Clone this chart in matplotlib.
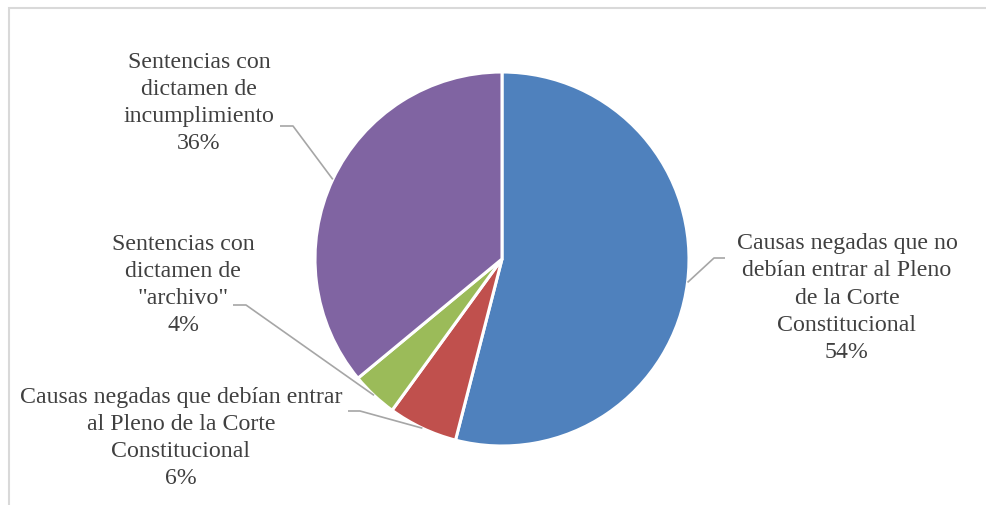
import numpy as np
import matplotlib
matplotlib.use("Agg")
import matplotlib.pyplot as plt
from matplotlib.patches import Rectangle

# ---- data ----
categories = [
    "Causas negadas que no\ndebían entrar al Pleno\nde la Corte\nConstitucional",
    "Causas negadas que debían entrar\nal Pleno de la Corte\nConstitucional",
    "Sentencias con\ndictamen de\n\"archivo\"",
    "Sentencias con\ndictamen de\nincumplimiento",
]
values = [54, 6, 4, 36]
colors = ["#4F81BD", "#C0504D", "#9BBB59", "#8064A2"]

# ---- layout (pixel coords, y up) ----
W, H = 986, 505
center = (502, H - 259)
radius = 187
# label centre positions and leader elbow/end points
label_pos = [(847, H - 298), (181, H - 438), (183, H - 285), (199, H - 103)]
elbows = [((714, H - 258), (725, H - 258)),
          ((360, H - 411), (348, H - 411)),
          ((246, H - 305), (233, H - 305)),
          ((293, H - 126), (280, H - 126))]

plt.rcParams['font.family'] = ['Liberation Serif', 'DejaVu Serif']

fig = plt.figure(figsize=(W / 100, H / 100), dpi=100)
ax = fig.add_axes([0, 0, 1, 1])
wedges, _ = ax.pie(values, colors=colors, startangle=90, counterclock=False,
                   center=center, radius=radius,
                   wedgeprops=dict(edgecolor="white", linewidth=2.2))
ax.set_xlim(0, W)
ax.set_ylim(0, H)
ax.set_aspect('equal')
ax.axis('off')

# border
ax.add_patch(Rectangle((9, -20), W + 40, (H - 8) + 20, fill=False,
                       edgecolor="#D9D9D9", linewidth=1.5, clip_on=False))

total = sum(values)
for i, (w, cat, v) in enumerate(zip(wedges, categories, values)):
    mid = np.deg2rad((w.theta1 + w.theta2) / 2)
    px = center[0] + radius * np.cos(mid)
    py = center[1] + radius * np.sin(mid)
    (ex, ey), (tx, ty) = elbows[i]
    ax.plot([px, ex, tx], [py, ey, ty], color="#A6A6A6", lw=1.2,
            solid_capstyle='butt')
    pct = f"{round(100 * v / total)}%"
    ax.text(label_pos[i][0], label_pos[i][1], f"{cat}\n{pct}",
            ha="center", va="center", multialignment="center",
            fontsize=17.2, color="#404040", linespacing=1.39)

fig.savefig("out.png", dpi=100)
